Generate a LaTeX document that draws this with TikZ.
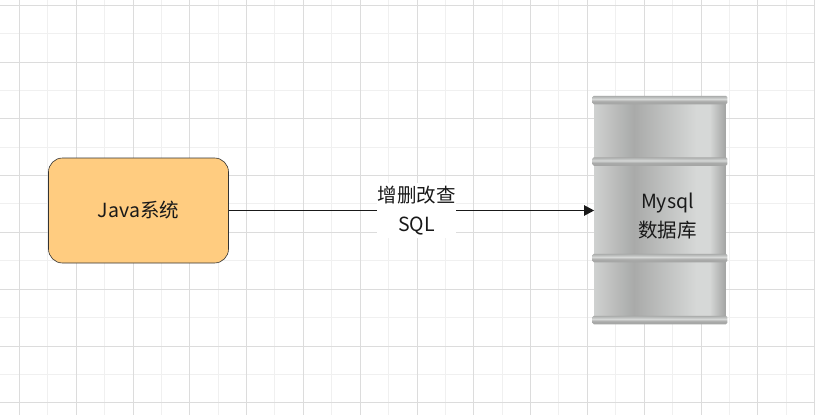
\documentclass[tikz,border=0pt]{standalone}
\usepackage{fontspec}
\setmainfont{Noto Sans CJK SC}
\usetikzlibrary{arrows.meta}
\definecolor{drumA}{HTML}{CFD1D0}
\definecolor{drumB}{HTML}{A9AAA9}
\definecolor{drumC}{HTML}{D6D8D7}
\definecolor{drumD}{HTML}{A4A5A4}
\definecolor{gridmajor}{HTML}{DCDCDC}
\definecolor{gridminor}{HTML}{F0F0F0}
\definecolor{javafill}{HTML}{FFCC80}
\pgfdeclarehorizontalshading{drumbody}{100bp}{
  color(0bp)=(drumA); color(25bp)=(drumA); color(40bp)=(drumB);
  color(64bp)=(drumC); color(69bp)=(drumC); color(75bp)=(drumD); color(100bp)=(drumD)}
\pgfdeclareverticalshading{drumrim}{100bp}{
  color(0bp)=(drumD); color(25bp)=(drumD); color(42bp)=(drumB);
  color(56bp)=(drumC); color(75bp)=(drumB); color(100bp)=(drumB)}
\tikzset{
  gridminorline/.style={gridminor, line width=1pt},
  gridmajorline/.style={gridmajor, line width=1pt},
  javabox/.style={draw=black!80, fill=javafill, rounded corners=14pt, line width=0.6pt,
    minimum width=180pt, minimum height=105pt, inner sep=0pt},
  drum/.style={shading=drumbody, minimum width=131pt, minimum height=222pt, inner sep=0pt},
  drumband/.style={shading=drumrim, rounded corners=1.5pt, minimum width=135pt, minimum height=8.5pt, inner sep=0pt},
  caption/.style={font=\fontsize{19.5}{29.5}\selectfont, text=black!90, align=center, inner sep=0pt}
}
\begin{document}
\begin{tikzpicture}[x=1pt,y=-1pt]
  \useasboundingbox (0,0) rectangle (815,415);
  \fill[white] (0,0) rectangle (815,415);
  % grid
  \foreach \i in {0,...,14} {
    \draw[gridminorline] ({floor(47.7+56.8*\i)+0.5},0) -- ({floor(47.7+56.8*\i)+0.5},415);
    \draw[gridminorline] (0,{floor(33.4+56.8*\i)+0.5}) -- (815,{floor(33.4+56.8*\i)+0.5});
  }
  \foreach \i in {0,...,14} {
    \draw[gridmajorline] ({floor(19.4+56.8*\i)+0.5},0) -- ({floor(19.4+56.8*\i)+0.5},415);
    \draw[gridmajorline] (0,{floor(5.2+56.8*\i)+0.5}) -- (815,{floor(5.2+56.8*\i)+0.5});
  }
  \node[javabox, caption] (java) at (138.5,210.5) {\raisebox{-1.5pt}{Java系统}};
  \node[drum] (db) at (659.8,210.5) {};
  \node[drumband] (rim1) at (659.8,100) {};
  \node[drumband] (rim2) at (659.8,161.5) {};
  \node[drumband] (rim3) at (659.8,258) {};
  \node[drumband] (rim4) at (659.8,320) {};
  \node[caption] (dblabel) at (667.5,216) {Mysql\\数据库};
  \path[-{Triangle[length=10pt,width=10.5pt]}, black!90, line width=0.8pt]
  (java) edge node[pos=0.514, fill=white, caption, minimum width=79pt, minimum height=55pt] (sqllabel) {\raisebox{-2pt}{增删改查}\\\raisebox{-2pt}{SQL}} (db);
\end{tikzpicture}
\end{document}
